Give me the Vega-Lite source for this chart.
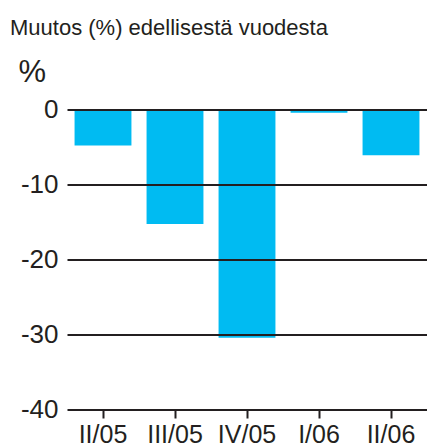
{
  "$schema": "https://vega.github.io/schema/vega-lite/v6.json",
  "width": 360,
  "height": 299.5,
  "autosize": {"type": "none"},
  "padding": {"left": 67, "top": 109.5, "right": 0, "bottom": 37},
  "background": "white",
  "title": {
    "text": "Muutos (%) edellisestä vuodesta",
    "anchor": "start",
    "frame": "group",
    "font": "Liberation Sans",
    "fontSize": 22,
    "fontWeight": "normal",
    "color": "#231f20",
    "dx": -57,
    "dy": -17,
    "offset": 0
  },
  "config": {
    "view": {"stroke": null},
    "font": "Liberation Sans"
  },
  "data": {
    "values": [
      {"period": "II/05", "change": -4.8},
      {"period": "III/05", "change": -15.3},
      {"period": "IV/05", "change": -30.5},
      {"period": "I/06", "change": -0.45},
      {"period": "II/06", "change": -6.1}
    ]
  },
  "mark": {"type": "bar", "color": "#00BBF2"},
  "encoding": {
    "x": {
      "field": "period",
      "type": "nominal",
      "sort": null,
      "scale": {"paddingInner": 0.21, "paddingOuter": 0.105},
      "axis": {
        "title": null,
        "labelAngle": 0,
        "labelFont": "Liberation Sans",
        "labelFontSize": 25,
        "labelColor": "#231f20",
        "labelPadding": 4,
        "domain": false,
        "ticks": true,
        "tickSize": 9,
        "tickWidth": 2,
        "tickColor": "#231f20",
        "grid": false
      }
    },
    "y": {
      "field": "change",
      "type": "quantitative",
      "scale": {"domain": [-40, 0], "nice": false},
      "axis": {
        "title": "%",
        "titleAngle": 0,
        "titleFont": "Liberation Sans",
        "titleFontSize": 31,
        "titleFontWeight": "normal",
        "titleColor": "#231f20",
        "titleX": -49,
        "titleY": -28,
        "titleAlign": "left",
        "titleBaseline": "alphabetic",
        "values": [0, -10, -20, -30, -40],
        "labelExpr": "datum.value + ''",
        "labelFont": "Liberation Sans",
        "labelFontSize": 26,
        "labelColor": "#231f20",
        "labelPadding": 9,
        "domain": false,
        "ticks": false,
        "grid": true,
        "gridColor": "#231f20",
        "gridWidth": 2,
        "gridOpacity": 1,
        "zindex": 1
      }
    }
  }
}
